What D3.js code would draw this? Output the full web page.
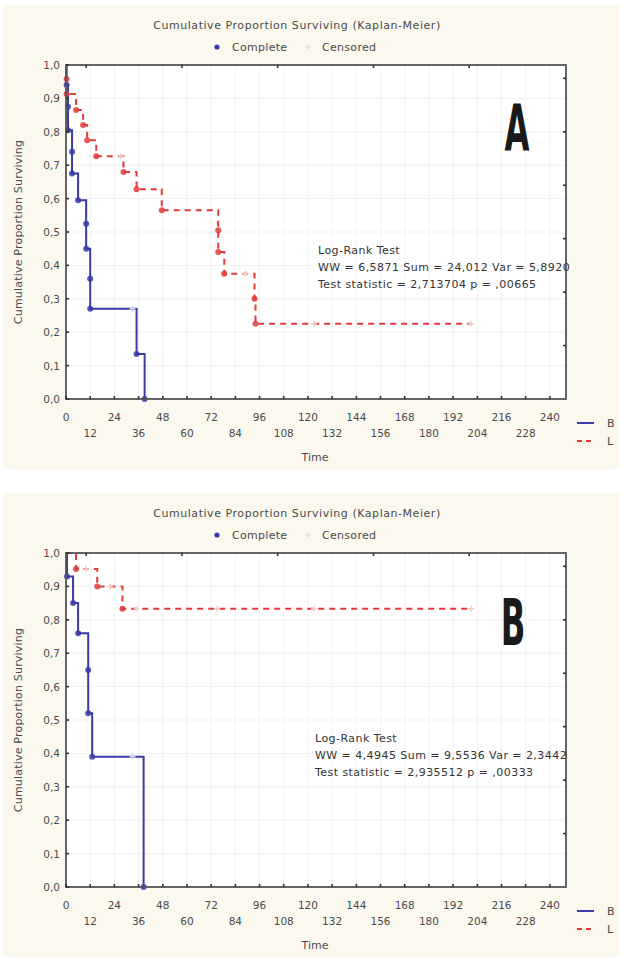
<!DOCTYPE html>
<html>
<head>
<meta charset="utf-8">
<script src="https://cdn.jsdelivr.net/npm/d3@7"></script>
<style>
  body { margin: 0; background: #fff; }
  svg { display: block; }
  text { font-family: "DejaVu Sans", "Liberation Sans", sans-serif; fill: #4a4a4a; }
</style>
</head>
<body>
<svg id="chart" width="622" height="958"></svg>
<script>
// axis ticks
const xTicks = [0, 12, 24, 36, 48, 60, 72, 84, 96, 108, 120, 132, 144, 156, 168, 180, 192, 204, 216, 228, 240];
const yTicks = [0, 0.1, 0.2, 0.3, 0.4, 0.5, 0.6, 0.7, 0.8, 0.9, 1.0];
const topTicks = [10, 57.5, 105, 152.5, 200];
const rightTicks = [0.16, 0.32, 0.48, 0.64, 0.80, 0.96];

// panel A: [time, survival] at each complete event, censored marks
const aB_events = [[0.3, 0.94], [1, 0.875], [1, 0.805], [3, 0.74], [3, 0.675], [6, 0.595],
                   [10, 0.525], [10, 0.45], [12, 0.36], [12, 0.27], [35, 0.135], [39, 0]];
const aB_censored = [[33, 0.27]];
const aL_events = [[0.3, 0.958], [0.3, 0.913], [5, 0.865], [8.5, 0.82], [10.5, 0.775], [15, 0.727],
                   [28.5, 0.68], [35, 0.628], [47.5, 0.565], [75.5, 0.505], [75.5, 0.44], [78.5, 0.375],
                   [93.5, 0.30], [94, 0.225]];
const aL_censored = [[27, 0.727], [89, 0.375], [123, 0.225], [201, 0.225]];
const aStats = ["Log-Rank Test", "WW = 6,5871 Sum = 24,012 Var = 5,8920", "Test statistic = 2,713704 p = ,00665"];

// panel B
const bB_events = [[0.5, 0.93], [3.5, 0.85], [6, 0.76], [11, 0.65], [11, 0.52], [13, 0.39], [38.5, 0]];
const bB_censored = [[33, 0.39]];
const bL_events = [[5, 0.952], [15.5, 0.90], [28, 0.833]];
const bL_censored = [[10, 0.952], [22, 0.90], [35, 0.833], [75, 0.833], [123, 0.833], [201, 0.833]];
const bStats = ["Log-Rank Test", "WW = 4,4945 Sum = 9,5536 Var = 2,3442", "Test statistic = 2,935512 p = ,00333"];

const BLUE = "#3a3aa8", RED = "#e23a3a";
const fmtY = d => d3.format(".1f")(d).replace(".", ",");

const svg = d3.select("#chart");

const panels = [
    {y0: 0, letter: "A", lx: 517, ly: 151, statsX: 318,
     series: [{ev: aB_events, cens: aB_censored, color: BLUE, dash: null},
              {ev: aL_events, cens: aL_censored, color: RED, dash: "6,5"}],
     stats: aStats},
    {y0: 488, letter: "B", lx: 513, ly: 157, statsX: 315,
     series: [{ev: bB_events, cens: bB_censored, color: BLUE, dash: null},
              {ev: bL_events, cens: bL_censored, color: RED, dash: "6,5"}],
     stats: bStats}
];

panels.forEach(p => drawPanel(p));

function drawPanel(p) {
    const g = svg.append("g").attr("transform", "translate(0," + p.y0 + ")");
    const left = 66, top = 65, w = 500, h = 334;

    g.append("rect").attr("x", 3).attr("y", 5).attr("width", 616).attr("height", 464)
        .attr("fill", "#fbf9ee");

    g.append("text").attr("x", 297).attr("y", 29).attr("text-anchor", "middle")
        .style("font-size", "11px").style("letter-spacing", "0.55px")
        .text("Cumulative Proportion Surviving (Kaplan-Meier)");

    // legend
    g.append("circle").attr("cx", 217).attr("cy", 47).attr("r", 2.6).attr("fill", BLUE);
    g.append("text").attr("x", 232).attr("y", 51).style("font-size", "11px").style("letter-spacing", "0.3px").text("Complete");
    g.append("path").attr("d", "M305,47h6M308,44v6").attr("stroke", "#d4d4dc").attr("stroke-width", 1);
    g.append("text").attr("x", 322).attr("y", 51).style("font-size", "11px").style("letter-spacing", "0.3px").text("Censored");

    const x = d3.scaleLinear().domain([0, 248]).range([left, left + w]);
    const y = d3.scaleLinear().domain([0, 1]).range([top + h, top]);

    const plot = g.append("g");
    plot.append("rect").attr("x", left).attr("y", top).attr("width", w).attr("height", h).attr("fill", "#fff");

    // faint grid
    plot.selectAll(".gx").data(xTicks.slice(1)).join("line")
        .attr("x1", d => x(d)).attr("x2", d => x(d)).attr("y1", top).attr("y2", top + h)
        .attr("stroke", "#f1f1f4");
    plot.selectAll(".gy").data(yTicks.slice(1, -1)).join("line")
        .attr("y1", d => y(d)).attr("y2", d => y(d)).attr("x1", left).attr("x2", left + w)
        .attr("stroke", "#f1f1f4");

    // curves
    p.series.forEach(s => {
        const last = s.ev[s.ev.length - 1];
        const pts = [[0, 1]].concat(s.ev);
        const tEnd = d3.max(s.cens, c => c[0]);
        if (tEnd > last[0]) pts.push([tEnd, last[1]]);
        const line = d3.line().x(d => x(d[0])).y(d => y(d[1])).curve(d3.curveStepAfter);
        plot.append("path").datum(pts).attr("d", line)
            .attr("fill", "none").attr("stroke", s.color).attr("stroke-width", 2)
            .attr("stroke-dasharray", s.dash);
        plot.selectAll(null).data(s.ev).join("circle")
            .attr("cx", d => x(d[0])).attr("cy", d => y(d[1])).attr("r", 3)
            .attr("fill", s.color).attr("opacity", 0.85);
        plot.selectAll(null).data(s.cens).join("path")
            .attr("d", d => "M" + (x(d[0]) - 3) + "," + y(d[1]) + "h6M" + x(d[0]) + "," + (y(d[1]) - 3) + "v6")
            .attr("stroke", s.color === BLUE ? "#d0d0ec" : "#f4cccc").attr("stroke-width", 1.5);
    });

    // frame
    plot.append("rect").attr("x", left).attr("y", top).attr("width", w).attr("height", h)
        .attr("fill", "none").attr("stroke", "#555").attr("stroke-width", 1.8);

    // bottom axis
    const xAxis = d3.axisBottom(x).tickValues(xTicks).tickSize(0).tickFormat("");
    g.append("g").attr("transform", "translate(0," + (top + h) + ")").call(xAxis)
        .call(a => a.select(".domain").remove());
    plot.selectAll(null).data(xTicks).join("line")
        .attr("x1", d => x(d)).attr("x2", d => x(d)).attr("y1", top + h).attr("y2", top + h - 3)
        .attr("stroke", "#333").attr("stroke-width", 1.6);
    g.selectAll(null).data(xTicks).join("text")
        .attr("x", d => x(d)).attr("y", (d, i) => top + h + (i % 2 === 0 ? 22 : 38))
        .attr("text-anchor", "middle").style("font-size", "10.5px").text(d => d);

    // left axis
    plot.selectAll(null).data(yTicks).join("line")
        .attr("x1", left).attr("x2", left + 3).attr("y1", d => y(d)).attr("y2", d => y(d))
        .attr("stroke", "#333").attr("stroke-width", 1.6);
    g.selectAll(null).data(yTicks).join("text")
        .attr("x", 60).attr("y", d => y(d) + 4).attr("text-anchor", "end")
        .style("font-size", "10.5px").text(fmtY);

    // secondary ticks
    plot.selectAll(null).data(topTicks).join("line")
        .attr("x1", d => x(d)).attr("x2", d => x(d)).attr("y1", top).attr("y2", top + 3)
        .attr("stroke", "#333").attr("stroke-width", 1.6);
    plot.selectAll(null).data(rightTicks).join("line")
        .attr("x1", left + w).attr("x2", left + w - 3).attr("y1", d => y(d)).attr("y2", d => y(d))
        .attr("stroke", "#333").attr("stroke-width", 1.6);

    // axis titles
    g.append("text").attr("transform", "translate(22," + (top + h / 2) + ") rotate(-90)")
        .attr("text-anchor", "middle").style("font-size", "11px").style("letter-spacing", "0.2px")
        .text("Cumulative Proportion Surviving");
    g.append("text").attr("x", 315).attr("y", top + h + 62).attr("text-anchor", "middle")
        .style("font-size", "11px").text("Time");

    // group legend
    const lg = g.append("g").attr("transform", "translate(0," + (top + h) + ")");
    lg.append("line").attr("x1", 577).attr("x2", 594).attr("y1", 24).attr("y2", 24)
        .attr("stroke", BLUE).attr("stroke-width", 2);
    lg.append("text").attr("x", 607).attr("y", 28).style("font-size", "11px").text("B");
    lg.append("line").attr("x1", 577).attr("x2", 594).attr("y1", 42).attr("y2", 42)
        .attr("stroke", RED).attr("stroke-width", 2).attr("stroke-dasharray", "5,4");
    lg.append("text").attr("x", 607).attr("y", 46).style("font-size", "11px").text("L");

    // log-rank text
    g.selectAll(null).data(p.stats).join("text")
        .attr("x", p.statsX).attr("y", (d, i) => top + 189 + i * 17)
        .style("font-size", "11px").style("letter-spacing", "0.45px").style("fill", "#333").text(d => d);

    // panel letter
    g.append("text").attr("transform", "translate(" + p.lx + "," + p.ly + ") scale(0.56,1)")
        .attr("text-anchor", "middle")
        .style("font-family", "'DejaVu Sans Condensed', 'DejaVu Sans', sans-serif")
        .style("font-weight", "bold").style("font-size", "64px").style("fill", "#1a1a1a")
        .text(p.letter);
}
</script>
</body>
</html>
